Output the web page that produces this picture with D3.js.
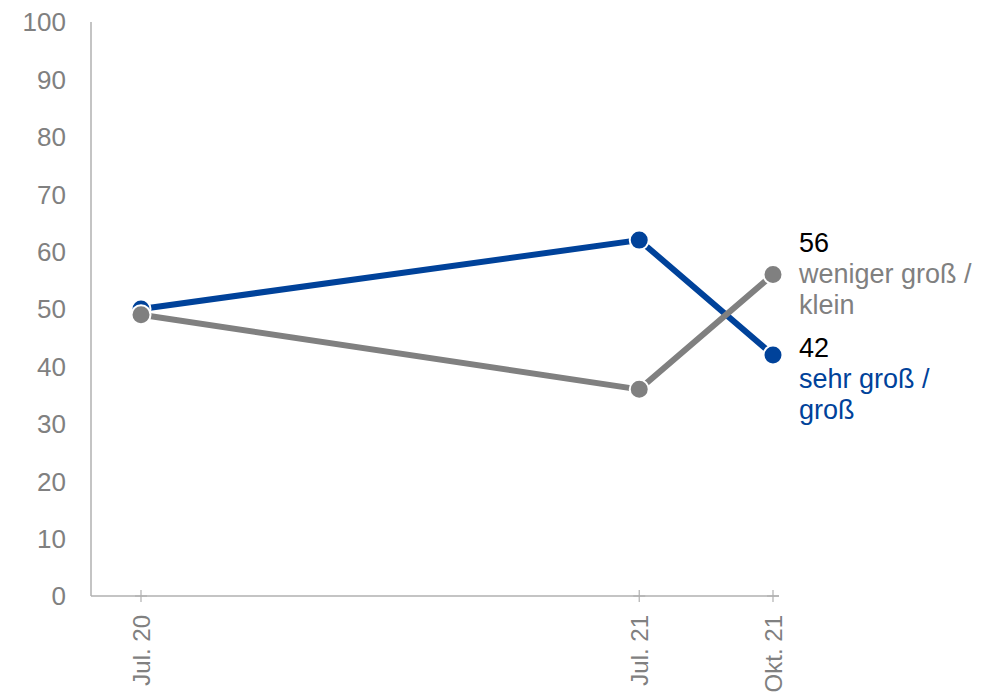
<!DOCTYPE html>
<html>
<head>
<meta charset="utf-8">
<script src="https://cdn.jsdelivr.net/npm/d3@7"></script>
<style>
  body { margin: 0; background: #fff; }
  #chart { width: 1000px; height: 693px; }
  text { font-family: "Liberation Sans", Arial, sans-serif; }
</style>
</head>
<body>
<div id="chart"></div>
<script>
const dates = ["2020-07-01", "2021-07-01", "2021-10-07"];
const tickLabels = ["Jul. 20", "Jul. 21", "Okt. 21"];
const yTicks = [0, 10, 20, 30, 40, 50, 60, 70, 80, 90, 100];

const sehrGross = [50, 62, 42];
const wenigerGross = [49, 36, 56];

const parse = d3.timeParse("%Y-%m-%d");
const series = [
  { name: "sehr groß / groß", lines: ["sehr groß /", "groß"], values: sehrGross, color: "#00429a" },
  { name: "weniger groß / klein", lines: ["weniger groß /", "klein"], values: wenigerGross, color: "#808080" }
];

const fullWidth = 1000, fullHeight = 693;
const svg = d3.select("#chart").append("svg")
  .attr("width", fullWidth)
  .attr("height", fullHeight);

const x = d3.scaleTime()
  .domain([parse(dates[0]), parse(dates[2])])
  .range([141, 773]);
const y = d3.scaleLinear().domain([0, 100]).range([596, 22]);

// y axis: line and labels only
svg.append("line")
  .attr("x1", 91).attr("x2", 91)
  .attr("y1", y(100)).attr("y2", y(0))
  .attr("stroke", "#b0b0b0").attr("stroke-width", 1.5);

svg.selectAll(".ylab")
  .data(yTicks)
  .enter().append("text")
  .attr("class", "ylab")
  .attr("x", 66)
  .attr("y", d => y(d))
  .attr("dy", "0.36em")
  .attr("text-anchor", "end")
  .attr("font-size", "26px")
  .attr("fill", "#808080")
  .text(d => d);

// x axis
svg.append("line")
  .attr("x1", 91).attr("x2", 779)
  .attr("y1", y(0)).attr("y2", y(0))
  .attr("stroke", "#b0b0b0").attr("stroke-width", 1.5);

const xt = svg.selectAll(".xtick")
  .data(dates)
  .enter().append("g")
  .attr("class", "xtick")
  .attr("transform", d => `translate(${x(parse(d))},${y(0)})`);

xt.append("line")
  .attr("y1", -6).attr("y2", 6)
  .attr("stroke", "#b0b0b0").attr("stroke-width", 1.2);
xt.append("line")
  .attr("x1", -6).attr("x2", 6)
  .attr("stroke", "#b0b0b0").attr("stroke-width", 1.2);

xt.append("text")
  .attr("transform", "translate(0,19) rotate(-90)")
  .attr("text-anchor", "end")
  .attr("dy", "0.36em")
  .attr("font-size", "24px")
  .attr("fill", "#808080")
  .text((d, i) => tickLabels[i]);

// lines
const line = d3.line()
  .x((d, i) => x(parse(dates[i])))
  .y(d => y(d));

series.forEach(s => {
  svg.append("path")
    .datum(s.values)
    .attr("fill", "none")
    .attr("stroke", s.color)
    .attr("stroke-width", 6)
    .attr("d", line);
});

series.forEach(s => {
  svg.selectAll(null)
    .data(s.values)
    .enter().append("circle")
    .attr("cx", (d, i) => x(parse(dates[i])))
    .attr("cy", d => y(d))
    .attr("r", 9.5)
    .attr("fill", s.color)
    .attr("stroke", "#fff")
    .attr("stroke-width", 2);
});

// end labels, stacked so blocks don't overlap
const labelX = 799, lineH = 31;
const sorted = series.slice().sort((a, b) => b.values[2] - a.values[2]);
let prevBottom = -Infinity;
sorted.forEach(s => {
  const last = s.values[s.values.length - 1];
  const base = Math.max(y(last) - 23, prevBottom + 43);
  const g = svg.append("g");
  g.append("text")
    .attr("x", labelX).attr("y", base)
    .attr("font-size", "27px")
    .attr("fill", "#000")
    .text(last);
  s.lines.forEach((t, i) => {
    g.append("text")
      .attr("x", labelX).attr("y", base + lineH * (i + 1))
      .attr("font-size", "27px")
      .attr("fill", s.color)
      .text(t);
  });
  prevBottom = base + lineH * s.lines.length;
});
</script>
</body>
</html>
